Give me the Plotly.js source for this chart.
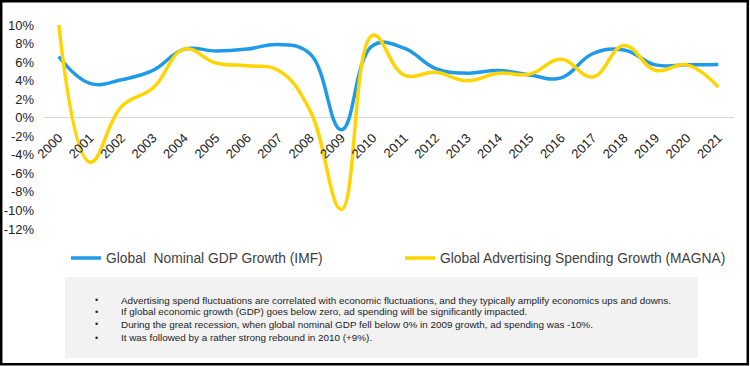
<!DOCTYPE html>
<html>
<head>
<meta charset="utf-8">
<script src="https://cdn.plot.ly/plotly-3.0.1.min.js"></script>
<style>
html,body{margin:0;padding:0;background:#fff;}
#chart{width:750px;height:366px;}
</style>
</head>
<body>
<div id="chart"></div>
<script>
const years = ["2000","2001","2002","2003","2004","2005","2006","2007","2008","2009","2010","2011","2012","2013","2014","2015","2016","2017","2018","2019","2020","2021"];
const gdpGrowth = [6.6, 3.7, 4.1, 5.1, 7.4, 7.2, 7.4, 7.9, 6.9, -1.3, 7.8, 7.5, 5.3, 4.8, 5.1, 4.6, 4.3, 6.9, 7.3, 5.7, 5.7, 5.75];
const adGrowth = [10.1, -4.8, 1.2, 3.2, 7.4, 5.9, 5.6, 5.1, 0.8, -9.9, 8.9, 4.6, 4.9, 4.0, 4.8, 4.7, 6.3, 4.4, 7.8, 5.1, 5.7, 3.3];
const seriesNames = ["Global  Nominal GDP Growth (IMF)", "Global Advertising Spending Growth (MAGNA)"];
const yTicks = [-12,-10,-8,-6,-4,-2,0,2,4,6,8,10];
const calloutYears = ["2010","2009"];
const calloutValues = [8.9, -9.9];
const notes = [
  "Advertising spend fluctuations are correlated with economic fluctuations, and they typically amplify economics ups and downs.",
  "If global economic growth (GDP) goes below zero, ad spending will be significantly impacted.",
  "During the great recession, when global nominal GDP fell below 0% in 2009 growth, ad spending was -10%.",
  "It was followed by a rather strong rebound in 2010 (+9%)."
];

// geometry helpers (pixel -> paper)
const M = {l:43, r:16, t:25, b:137};
const W = 750 - M.l - M.r, H = 366 - M.t - M.b;
const px = x => (x - M.l) / W;
const py = y => (366 - M.b - y) / H;
const yMin = -12, yMax = 10;

const traces = [
  {x: years, y: gdpGrowth, name: seriesNames[0], type:'scatter', mode:'lines',
   line:{color:'#1f9ae8', width:3.5, shape:'spline', smoothing:1.2}},
  {x: years, y: adGrowth, name: seriesNames[1], type:'scatter', mode:'lines',
   line:{color:'#ffd400', width:3.5, shape:'spline', smoothing:1.2}}
];

const noteY = [300, 311.5, 324, 337.5];
const annotations = [];
annotations.push({x: calloutYears[0], y: calloutValues[0], xref:'x', yref:'y',
  text: calloutValues[0].toFixed(1) + '%', showarrow:false, xshift:43, yshift:7,
  font:{family:'Liberation Sans, Arial, sans-serif', size:15, color:'#333'}});
annotations.push({x: calloutYears[1], y: calloutValues[1], xref:'x', yref:'y',
  text: calloutValues[1].toFixed(1) + '%', showarrow:false, xshift:32, yshift:0,
  font:{family:'Liberation Sans, Arial, sans-serif', size:15, color:'#333'}});
notes.forEach((t, i) => {
  annotations.push({x: px(96), y: py(noteY[i]), xref:'paper', yref:'paper', text:'•',
    showarrow:false, xanchor:'center', yanchor:'middle',
    font:{family:'Liberation Sans, Arial, sans-serif', size:9, color:'#222'}});
  annotations.push({x: px(119), y: py(noteY[i]), xref:'paper', yref:'paper', text:t,
    showarrow:false, xanchor:'left', yanchor:'middle',
    font:{family:'Liberation Sans, Arial, sans-serif', size:9.9, color:'#222'}});
});

const layout = {
  width:750, height:366,
  margin:{l:M.l, r:M.r, t:M.t, b:M.b, pad:0},
  paper_bgcolor:'#fff', plot_bgcolor:'rgba(0,0,0,0)',
  showlegend:true,
  legend:{orientation:'h', x:px(66), y:py(258), xanchor:'left', yanchor:'middle',
    font:{family:'Liberation Sans, Arial, sans-serif', size:13.8, color:'#404040'},
    itemwidth:30, entrywidth:289, entrywidthmode:'pixels', bgcolor:'rgba(0,0,0,0)'},
  xaxis:{type:'category', range:[-0.5, 21.5], anchor:'free', position:(0 - yMin)/(yMax - yMin) - 9/H,
    showgrid:false, showline:false, zeroline:false, ticks:'', tickangle:-45,
    tickfont:{family:'Liberation Sans, Arial, sans-serif', size:13, color:'#222'}, fixedrange:true},
  yaxis:{range:[yMin, yMax], tickvals:yTicks, ticktext:yTicks.map(v => v + '%'),
    showgrid:false, zeroline:true, zerolinecolor:'#d9d9d9', zerolinewidth:1.5,
    showline:false, ticks:'', ticklabelstandoff:8,
    tickfont:{family:'Liberation Sans, Arial, sans-serif', size:13, color:'#222'}, fixedrange:true},
  shapes:[
    {type:'rect', xref:'paper', yref:'paper', x0:px(65), x1:px(698), y0:py(358), y1:py(277),
     fillcolor:'#f2f2f2', line:{width:0}, layer:'below'},
    {type:'rect', xref:'paper', yref:'paper', x0:px(1.2), x1:px(747.8), y0:py(364.3), y1:py(1.2),
     fillcolor:'rgba(0,0,0,0)', line:{color:'#000', width:2.5}, layer:'above'}
  ],
  annotations: annotations
};

Plotly.newPlot('chart', traces, layout, {displayModeBar:false, staticPlot:true});
</script>
</body>
</html>
